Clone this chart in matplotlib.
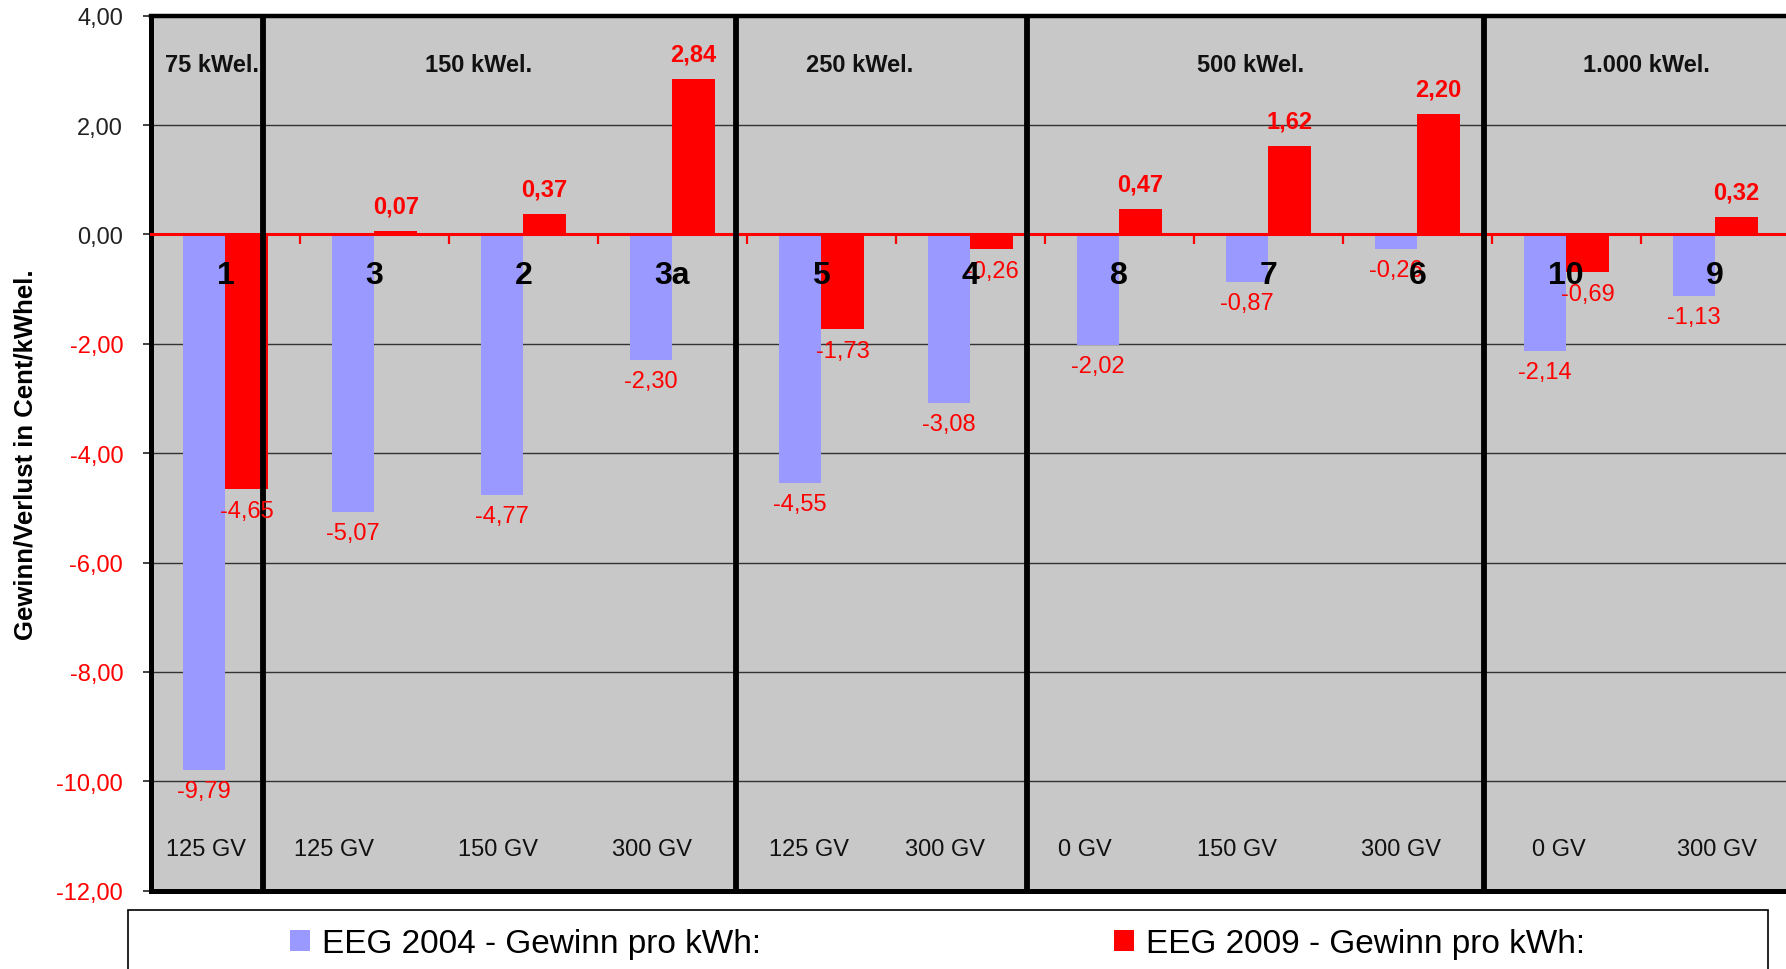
import numpy as np
import matplotlib
matplotlib.use('Agg')
import matplotlib.pyplot as plt
from matplotlib.patches import Rectangle

plt.rcParams['font.family'] = ['Liberation Sans', 'DejaVu Sans']

# data
variants = ['1', '3', '2', '3a', '5', '4', '8', '7', '6', '10', '9']
eeg2004 = [-9.79, -5.07, -4.77, -2.30, -4.55, -3.08, -2.02, -0.87, -0.26, -2.14, -1.13]
eeg2009 = [-4.65, 0.07, 0.37, 2.84, -1.73, -0.26, 0.47, 1.62, 2.20, -0.69, 0.32]
gv_labels = ['125 GV', '125 GV', '150 GV', '300 GV', '125 GV', '300 GV',
             '0 GV', '150 GV', '300 GV', '0 GV', '300 GV']
gv_x = [-0.13, 0.73, 1.83, 2.86, 3.92, 4.83, 5.77, 6.79, 7.89, 8.95, 10.01]
groups = ['75 kWel.', '150 kWel.', '250 kWel.', '500 kWel.', '1.000 kWel.']
group_x = [-0.09, 1.70, 4.26, 6.88, 9.54]
group_edges = [0.255, 3.427, 5.38, 8.448]
yticks = [4, 2, 0, -2, -4, -6, -8, -10, -12]

blue = '#9999FF'
red = '#FF0000'

fig = plt.figure(figsize=(17.86, 9.70), dpi=100)
ax = fig.add_axes([151/1786, 78.3/970, 1638.7/1786, 875/970])
ax.set_facecolor('#C8C8C8')

x = np.arange(len(variants))
w = 0.285
b1 = ax.bar(x - w/2, eeg2004, w, color=blue, zorder=2, label='EEG 2004 - Gewinn pro kWh:')
b2 = ax.bar(x + w/2, eeg2009, w, color=red, zorder=2, label='EEG 2009 - Gewinn pro kWh:')

ax.set_xlim(-0.5, 10.5)
ax.set_ylim(-12, 4)

# y axis
ax.set_yticks(yticks)
ax.set_yticklabels([f'{v:.2f}'.replace('.', ',') for v in yticks], fontsize=17)
for lbl, v in zip(ax.get_yticklabels(), yticks):
    lbl.set_color(red if v < 0 else '#222222')
ax.tick_params(axis='y', length=6, width=1.2, color='#222222', pad=14)
ax.yaxis.grid(True, color='#333333', lw=1.0)
ax.set_axisbelow(True)
ax.set_ylabel('Gewinn/Verlust in Cent/kWhel.', fontsize=18.5, fontweight='bold', labelpad=14)

# x axis on zero line
ax.spines['bottom'].set_position(('data', 0))
ax.spines['bottom'].set_color(red)
ax.spines['bottom'].set_linewidth(2.2)
ax.spines['bottom'].set_zorder(2.5)
ax.set_xticks(np.arange(-0.5, 11, 1))
ax.set_xticklabels([])
ax.tick_params(axis='x', direction='out', length=7, width=1.6, color=red)

ax.spines['top'].set_linewidth(3.2)
ax.spines['left'].set_linewidth(3.6)
ax.spines['right'].set_visible(False)
ax.axhline(-12, color='black', lw=3.6, zorder=4, clip_on=False)

for e in group_edges:
    ax.axvline(e, color='black', lw=4.2, zorder=4)

# value labels
for xi, v in zip(x - w/2, eeg2004):
    ax.annotate(f'{v:.2f}'.replace('.', ','), (xi, v), xytext=(0, -15),
                textcoords='offset points', ha='center', va='center',
                color=red, fontsize=17, zorder=5)
for xi, v in zip(x + w/2, eeg2009):
    if v >= 0:
        ax.annotate(f'{v:.2f}'.replace('.', ','), (xi, v), xytext=(0, 18),
                    textcoords='offset points', ha='center', va='center',
                    color=red, fontsize=17, fontweight='bold', zorder=5)
    else:
        ax.annotate(f'{v:.2f}'.replace('.', ','), (xi, v), xytext=(0, -16),
                    textcoords='offset points', ha='center', va='center',
                    color=red, fontsize=17, zorder=5)

for xi, name in zip(x, variants):
    ax.text(xi, -0.75, name, ha='center', va='center', fontsize=23,
            fontweight='bold', color='black', zorder=6)

for xi, name in zip(gv_x, gv_labels):
    ax.text(xi, -11.23, name, ha='center', va='center', fontsize=17, color='#111111')

for xi, name in zip(group_x, groups):
    ax.text(xi, 3.1, name, ha='center', va='center', fontsize=17,
            fontweight='bold', color='#111111')

# legend box runs off the bottom edge like in the original
box_top = 1 - 911/970
fig.patches.append(Rectangle((127.6/1786, -0.05), 1640/1786, box_top + 0.05,
                             transform=fig.transFigure, fill=False,
                             edgecolor='black', lw=1.2))
fig.legend(handles=[b1, b2], ncol=2, loc='center', bbox_to_anchor=(0.525, 1 - 945/970),
           frameon=False, fontsize=24, handlelength=0.6, handleheight=0.6,
           handletextpad=0.35, columnspacing=10.6)

fig.savefig('out.png', dpi=100)
